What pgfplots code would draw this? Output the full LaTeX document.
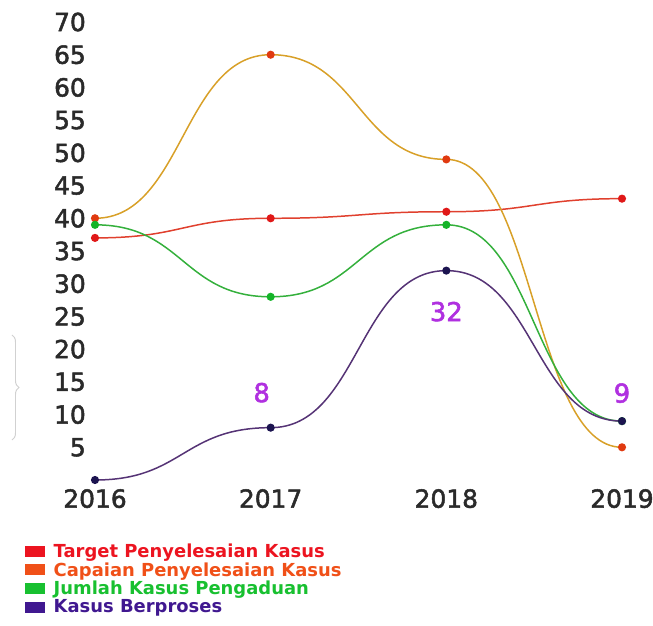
\documentclass[border=0pt]{standalone}
\usepackage{pgfplots}
\pgfplotsset{compat=1.18}
\usepackage{fontspec}
\setmainfont{DejaVu Sans}
\newfontfamily\tickfont{DejaVu Sans}[FakeBold=2]
\newfontfamily\legfont{DejaVu Sans Bold}
\usetikzlibrary{decorations.pathreplacing}

\makeatletter
% horizontal-tangent Bezier plot handler (control points at mid x)
\def\pgfplothandlerhbezier{%
  \def\pgf@plotstreamstart{%
    \global\let\pgf@plotstreampoint=\hb@first
    \global\let\pgf@plotstreamspecial=\pgfutil@gobble
    \global\let\pgf@plotstreamend=\pgfutil@empty
  }%
}
\def\hb@first#1{%
  \pgf@process{#1}%
  \edef\hb@cx{\the\pgf@x}\edef\hb@cy{\the\pgf@y}%
  \pgfpathmoveto{\pgfqpoint{\hb@cx}{\hb@cy}}%
  \global\let\hb@px=\hb@cx \global\let\hb@py=\hb@cy
  \global\let\pgf@plotstreampoint=\hb@next
}
\def\hb@next#1{%
  \pgf@process{#1}%
  \edef\hb@cx{\the\pgf@x}\edef\hb@cy{\the\pgf@y}%
  \pgf@xa=\hb@px\relax \advance\pgf@xa by \hb@cx\relax \divide\pgf@xa by 2\relax
  \edef\hb@mx{\the\pgf@xa}%
  \pgfpathcurveto{\pgfqpoint{\hb@mx}{\hb@py}}{\pgfqpoint{\hb@mx}{\hb@cy}}{\pgfqpoint{\hb@cx}{\hb@cy}}%
  \global\let\hb@px=\hb@cx \global\let\hb@py=\hb@cy
}
\tikzset{hbezier/.code={\let\tikz@plot@handler=\pgfplothandlerhbezier}}
\makeatother

\definecolor{tickgray}{HTML}{2A2A2A}
\definecolor{lnRed}{HTML}{E0402E}
\definecolor{mkRed}{HTML}{E01818}
\definecolor{lnOrange}{HTML}{D8A028}
\definecolor{mkOrange}{HTML}{E03A10}
\definecolor{lnGreen}{HTML}{34B03C}
\definecolor{mkGreen}{HTML}{14B428}
\definecolor{lnPurple}{HTML}{553375}
\definecolor{mkPurple}{HTML}{1C1450}
\definecolor{labPurple}{HTML}{B030E0}
\definecolor{legRed}{HTML}{EC1420}
\definecolor{legOrange}{HTML}{F05018}
\definecolor{legGreen}{HTML}{18C030}
\definecolor{legPurple}{HTML}{401890}

\begin{document}
\begin{tikzpicture}
\useasboundingbox (-95bp,-146bp) rectangle (558bp,480bp);
\begin{axis}[
  scale only axis,
  width=527bp, height=458bp,
  xmin=2016, xmax=2019, ymin=0, ymax=70,
  clip=false,
  axis line style={draw=none},
  major tick length=0pt,
  xtick={2016,2017,2018,2019},
  ytick={5,10,...,70},
  /pgf/number format/assume math mode=true,
  xticklabel={\pgfmathprintnumber[1000 sep=]{\tick}},
  ticklabel style={font=\tickfont\fontsize{25}{27}\selectfont, text=tickgray, inner sep=0pt},
  yticklabel style={anchor=east, xshift=-9bp},
  xticklabel style={anchor=north, yshift=-9bp},
  legend style={draw=none, fill=none, at={(-0.139,-0.13)}, anchor=north west,
    font=\legfont\fontsize{18}{19}\selectfont, row sep=-0.4bp,
    cells={anchor=west}},
  legend cell align=left,
  legend image code/.code={\fill[#1, draw=none] (0bp,-5.5bp) rectangle (20bp,5.5bp); \path (26bp,0bp);},
  every axis plot/.append style={hbezier, line width=1.5pt, mark=*, mark size=3.3pt},
]
\addplot[lnRed, mark options={fill=mkRed, draw=mkRed}, forget plot] coordinates {(2016,37) (2017,40) (2018,41) (2019,43)};
\addplot[lnOrange, mark options={fill=mkOrange, draw=mkOrange}, forget plot] coordinates {(2016,40) (2017,65) (2018,49) (2019,5)};
\addplot[lnGreen, mark options={fill=mkGreen, draw=mkGreen}, forget plot] coordinates {(2016,39) (2017,28) (2018,39) (2019,9)};
\addplot[lnPurple, mark options={fill=mkPurple, draw=mkPurple}, forget plot] coordinates {(2016,0) (2017,8) (2018,32) (2019,9)};

\addlegendimage{fill=legRed}
\addlegendentry[text=legRed]{Target Penyelesaian Kasus}
\addlegendimage{fill=legOrange}
\addlegendentry[text=legOrange]{Capaian Penyelesaian Kasus}
\addlegendimage{fill=legGreen}
\addlegendentry[text=legGreen]{Jumlah Kasus Pengaduan}
\addlegendimage{fill=legPurple}
\addlegendentry[text=legPurple]{Kasus Berproses}

\node[text=labPurple, font=\tickfont\fontsize{26}{28}\selectfont, xshift=-9bp, yshift=35bp] at (axis cs:2017,8) {8};
\node[text=labPurple, font=\tickfont\fontsize{26}{28}\selectfont, yshift=-41bp] at (axis cs:2018,32) {32};
\node[text=labPurple, font=\tickfont\fontsize{26}{28}\selectfont, yshift=28bp] at (axis cs:2019,9) {9};
\end{axis}
\draw[black!18, line width=1pt, decorate, decoration={brace, amplitude=7bp}] (-83bp,145bp) -- (-83bp,40bp);
\end{tikzpicture}
\end{document}
